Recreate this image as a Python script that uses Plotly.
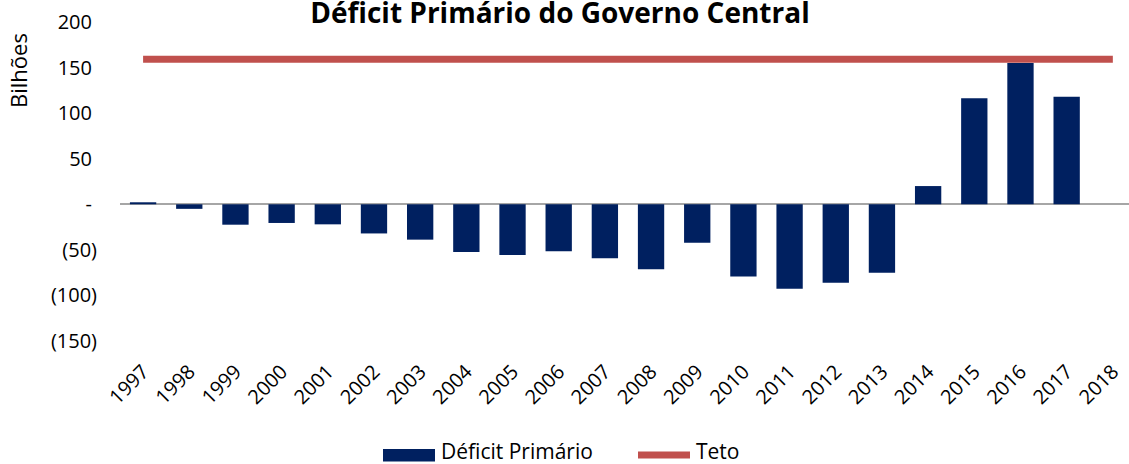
import plotly.graph_objects as go

years = [str(y) for y in range(1997, 2019)]
deficit = [2.2, -5, -22.4, -20.5, -22, -32, -38.8, -52.4, -55.7, -51.6, -59.3,
           -71.4, -42.1, -79.1, -92.6, -86.0, -75.0, 20.0, 116.3, 155.0, 118.0, None]
teto = [159] * len(years)

ytickvals = [200, 150, 100, 50, 0, -50, -100, -150]
yticktext = ["200\u2005", "150\u2005", "100\u2005", "50\u2005", "-\u2005", "(50)", "(100)", "(150)"]

FONT = "Open Sans"
NAVY = "#002060"
RED = "#C0504D"

W, H = 1129, 464
L, T, B, R = 120, 22, 123, 0
pw, ph = W - L - R, H - T - B

def px(x):
    return (x - L) / pw

def py(y):
    return (H - B - y) / ph

fig = go.Figure()
fig.add_trace(go.Bar(x=years, y=deficit, name="Déficit Primário",
                     marker=dict(color=NAVY, line=dict(width=0)), width=0.57,
                     showlegend=False, hoverinfo="skip"))
fig.add_trace(go.Scatter(x=years, y=teto, name="Teto", mode="lines",
                         line=dict(color=RED, width=7), showlegend=False,
                         hoverinfo="skip"))

fig.update_layout(
    width=W, height=H,
    margin=dict(l=L, r=R, t=T, b=B, pad=0),
    plot_bgcolor="white", paper_bgcolor="white",
    font=dict(family=FONT, size=20, color="#000000"),
    title=dict(text="<b>Déficit Primário do Governo Central</b>",
               x=560 / W, xanchor="center", y=1 - 3 / H, yanchor="top",
               yref="container", pad=dict(t=0, b=0),
               font=dict(size=28, color="#000000")),
    xaxis=dict(type="category", range=[-0.5, 21.35], showgrid=False,
               showline=False, ticks="", tickangle=-45,
               ticklabelstandoff=14, tickfont=dict(size=20)),
    yaxis=dict(range=[-150, 200], tickvals=ytickvals, ticktext=yticktext,
               showgrid=False, showline=False, zeroline=True,
               zerolinecolor="#A6A6A6", zerolinewidth=1.5, ticks="",
               ticklabelstandoff=22, tickfont=dict(size=20)),
    showlegend=False,
)

# Y axis title
fig.add_annotation(text="Bilhões", textangle=-90, xref="paper", yref="paper",
                   x=px(18), y=py(71), xanchor="center", yanchor="middle",
                   showarrow=False, font=dict(size=22))

# Custom legend
fig.add_shape(type="rect", xref="paper", yref="paper",
              x0=px(383), x1=px(435), y0=py(449), y1=py(461.5),
              fillcolor=NAVY, line=dict(width=0))
fig.add_annotation(text="Déficit Primário", xref="paper", yref="paper",
                   x=px(439), y=py(451), xanchor="left", yanchor="middle",
                   showarrow=False, font=dict(size=21))
fig.add_shape(type="line", xref="paper", yref="paper",
              x0=px(638), x1=px(690), y0=py(455), y1=py(455),
              line=dict(color=RED, width=7))
fig.add_annotation(text="Teto", xref="paper", yref="paper",
                   x=px(694), y=py(451), xanchor="left", yanchor="middle",
                   showarrow=False, font=dict(size=21))

fig.write_html("out.html", config={"displayModeBar": False},
               post_script="document.body.style.margin='0';document.body.style.padding='0';")
